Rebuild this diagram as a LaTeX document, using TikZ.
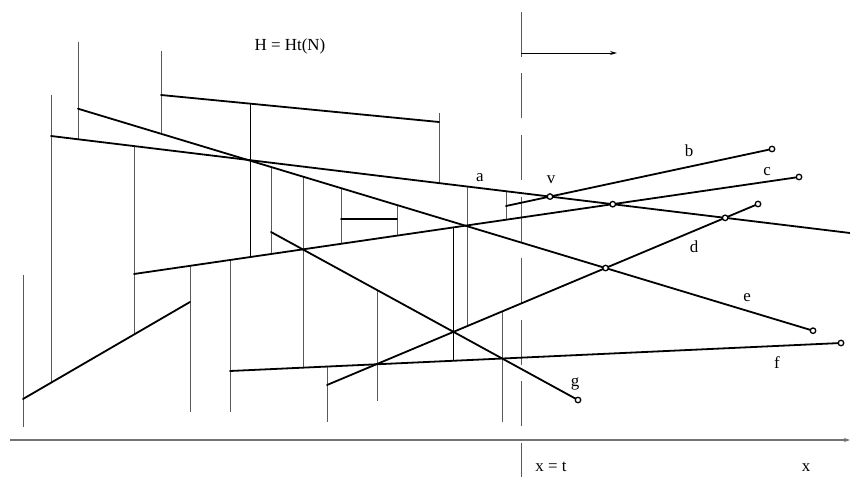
\documentclass[tikz,border=0pt]{standalone}
\usepackage{fontspec}
\setmainfont{Liberation Serif}
\usetikzlibrary{arrows.meta,positioning,calc}

\begin{document}
\begin{tikzpicture}[
        x=1bp, y=-1bp,
        seg/.style={
            line width=1.8bp,
            draw=black,
            line cap=round
        },
        rule/.style={
            line width=0.9bp,
            draw=black!65
        },
        ring/.style={
            circle,
            draw=black,
            fill=white,
            line width=1.3bp,
            minimum size=5.5bp,
            inner sep=0pt
        },
        lbl/.style={
            font=\fontsize{17}{20}\selectfont,
            inner sep=0pt
        }
    ]
        \useasboundingbox (0,0) rectangle (850,477);

        % Coordinates
        \coordinate (a1) at (51,136);
        \coordinate (a2) at (850,233);
        \coordinate (e1) at (78,108.7);
        \coordinate (e2) at (813,330.7);
        \coordinate (h1) at (161,95);
        \coordinate (h2) at (439,122);
        \coordinate (c1) at (134,274);
        \coordinate (c2) at (799,177);
        \coordinate (b1) at (506,206);
        \coordinate (b2) at (772,149);
        \coordinate (d1) at (327,385);
        \coordinate (d2) at (758,204);
        \coordinate (f1) at (230,371);
        \coordinate (f2) at (841,343);
        \coordinate (g1) at (271,232);
        \coordinate (g2) at (578,400);
        \coordinate (k1) at (23,399);
        \coordinate (k2) at (190,302);
        \coordinate (m1) at (341,219);
        \coordinate (m2) at (397,219);
        \coordinate (t1) at (521,12);
        \coordinate (t2) at (521,477);
        \coordinate (t3) at (521,53);
        \coordinate (t4) at (617,53);
        \coordinate (o1) at (10,440);
        \coordinate (o2) at (850,440);

        % Vertical rules
        \draw[rule] (23,275) -- (23,427);
        \draw[rule] (51,95) -- (51,383);
        \draw[rule] (78,42) -- (78,139.3);
        \draw[rule] (134,146.1) -- (134,334.5);
        \draw[rule] (161,51) -- (161,133.8);
        \draw[rule] (190,265.8) -- (190,412);
        \draw[rule] (230,260) -- (230,412);
        \draw[rule, draw=black] (250,103.7) -- (250,257.1);
        \draw[rule] (271,167) -- (271,254);
        \draw[rule] (303,176.7) -- (303,367.7);
        \draw[rule] (327,366.6) -- (327,422);
        \draw[rule] (341,188.1) -- (341,243.8);
        \draw[rule] (377,290) -- (377,401);
        \draw[rule] (397,205) -- (397,235.6);
        \draw[rule] (439,113) -- (439,183.1);
        \draw[rule, draw=black] (453,227.5) -- (453,360.9);
        \draw[rule] (467,186.5) -- (467,326.1);
        \draw[rule] (502,311.4) -- (502,422);
        \draw[rule] (506,191.2) -- (506,219.7);

        % Time line and axis
        \draw[rule, dash pattern=on 45bp off 16.5bp] (t1) -- (t2);
        \draw[line width=0.9bp, -{Stealth[length=7bp,width=4bp]}] (t3) -- (t4);
        \draw[line width=1.3bp, draw=black!55, -{Stealth[length=6bp,width=4bp]}] (o1) -- (o2);

        % Segments
        \draw[seg] (h1) -- (h2);
        \draw[seg] (a1) -- (a2);
        \draw[seg] (e1) -- (e2);
        \draw[seg] (c1) -- (c2);
        \draw[seg] (b1) -- (b2);
        \draw[seg] (d1) -- (d2);
        \draw[seg] (f1) -- (f2);
        \draw[seg] (g1) -- (g2);
        \draw[seg] (k1) -- (k2);
        \draw[seg] (m1) -- (m2);

        % End points and crossings
        \node[ring] (rb) at (b2) {};
        \node[ring] (rc) at (c2) {};
        \node[ring] (rd) at (d2) {};
        \node[ring] (re) at (e2) {};
        \node[ring] (rf) at (f2) {};
        \node[ring] (rg) at (g2) {};
        \node[ring] (v) at (intersection of a1--a2 and b1--b2) {};
        \node[ring] (xac) at (intersection of a1--a2 and c1--c2) {};
        \node[ring] (xad) at (intersection of a1--a2 and d1--d2) {};
        \node[ring] (xde) at (intersection of d1--d2 and e1--e2) {};

        % Labels
        \node[lbl] (title) at (290,46) {H = Ht(N)};
        \node[lbl] (la) at (480,178) {a};
        \node[lbl] (lv) at (551,180) {v};
        \node[lbl] (lb) at (689,151) {b};
        \node[lbl] (lc) at (767,172) {c};
        \node[lbl] (ld) at (694,247) {d};
        \node[lbl] (le) at (747,298) {e};
        \node[lbl] (lf) at (777,363) {f};
        \node[lbl] (lg) at (575,384) {g};
        \node[lbl] (lt) at (551,467) {x = t};
        \node[lbl] (lx) at (806,468) {x};
    \end{tikzpicture}
\end{document}
